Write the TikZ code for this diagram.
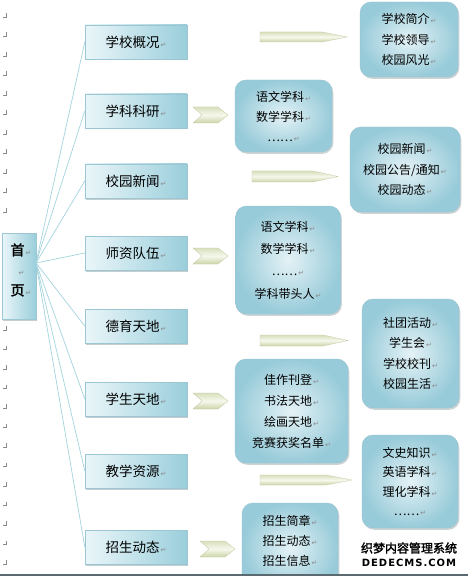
\documentclass[tikz,border=0pt]{standalone}
\usepackage{fontspec}
\setmainfont{Noto Sans CJK SC}
\newfontfamily\symf{DejaVu Sans}
\newfontfamily\cjkb{Noto Sans CJK SC}[FakeBold=2]
\newfontfamily\wmlat{DejaVu Sans}[LetterSpace=10]
\usetikzlibrary{shadows,calc}
\definecolor{menul}{HTML}{EAF6F9}
\definecolor{menur}{HTML}{9ACEDB}
\definecolor{menuedge}{HTML}{9CC6D1}
\definecolor{subin}{HTML}{E4F2F6}
\definecolor{subout}{HTML}{98CBD9}
\definecolor{subedge}{HTML}{94C3D0}
\definecolor{shadowc}{HTML}{7F9296}
\definecolor{linkc}{HTML}{A3D4DE}
\definecolor{pencTop}{HTML}{D8E0BE}
\definecolor{pencMid}{HTML}{F6F8EC}
\definecolor{pencBot}{HTML}{CBD4A8}
\definecolor{pencEdge}{HTML}{C2CBA2}
\definecolor{pmgray}{HTML}{8A8A8A}
\definecolor{bottomline}{HTML}{5A6A70}
\newcommand\pmk{\hspace{1pt}{\symf\fontsize{7}{7}\selectfont\textcolor{pmgray}{↵}}}
\begin{document}
\begin{tikzpicture}[x=1pt,y=-1pt,
  menubox/.style={draw=menuedge, line width=0.4pt, left color=menul, right color=menur,
    minimum width=102pt, minimum height=34pt, inner sep=0pt,
    font=\fontsize{13.5}{14}\selectfont,
    drop shadow={shadow xshift=1.3pt, shadow yshift=-1.5pt, opacity=0.45, fill=shadowc}},
  homebox/.style={draw=menuedge, line width=0.4pt, left color=menul, right color=menur,
    minimum width=34pt, minimum height=86pt, inner sep=0pt,
    drop shadow={shadow xshift=1.3pt, shadow yshift=-1.5pt, opacity=0.45, fill=shadowc}},
  subbox/.style={draw=subedge, line width=0.4pt, rounded corners=11pt,
    inner color=subin, outer color=subout, inner sep=0pt, align=center,
    drop shadow={shadow xshift=1.3pt, shadow yshift=-1.8pt, opacity=0.4, fill=shadowc}},
  subtxt/.style={align=center, inner sep=0pt},
  link/.style={draw=linkc, line width=0.7pt},
  pencil/.style={draw=pencEdge, line width=0.3pt, top color=pencTop, bottom color=pencBot, middle color=pencMid},
  chev/.style={draw=pencEdge, line width=0.3pt, top color=pencTop, bottom color=pencBot, middle color=pencMid},
  pmmark/.style={draw=pmgray, line width=0.5pt}
]
\useasboundingbox (0,0) rectangle (468,577);
\fill[white] (0,0) rectangle (468,577);

% margin paragraph marks
\foreach \yy in {17,36.5,56,75.5,95,114.5,134,153.5,173,192.5,212,330,349.5,369,388.5,408,427.5,447,466.5,486,505.5,525,544.5,564}
  \draw[pmmark] (3,\yy) -- (6,\yy) -- (6,\yy-4);

% home
\node[homebox] (home) at (19,276) {};
\node[subtxt, font=\fontsize{14}{20}\selectfont\cjkb] (hometxt) at (21,270) {首\pmk\\[0pt]\pmk\\[0pt]页\pmk};
\coordinate (hub) at (36,263);

% menu boxes
\node[menubox] (m1) at (136,42) {学校概况\pmk};
\node[menubox] (m2) at (136,111) {学科科研\pmk};
\node[menubox] (m3) at (136,181) {校园新闻\pmk};
\node[menubox] (m4) at (136,253) {师资队伍\pmk};
\node[menubox] (m5) at (136,326) {德育天地\pmk};
\node[menubox] (m6) at (136,399) {学生天地\pmk};
\node[menubox] (m7) at (136,471) {教学资源\pmk};
\node[menubox] (m8) at (136,547) {招生动态\pmk};

\foreach \m in {m1,m2,m3,m4,m5,m6,m7,m8}
  \draw[link] (hub) -- (\m.west);

% sub boxes
\node[subbox, minimum width=98pt, minimum height=75pt, font=\fontsize{12}{20.5}\selectfont] (s1) at (409,39.5)
  {学校简介\pmk\\学校领导\pmk\\校园风光\pmk};
\node[subbox, minimum width=97pt, minimum height=72pt, font=\fontsize{12}{20}\selectfont] (s2) at (283.5,116)
  {语文学科\pmk\\数学学科\pmk\\……\pmk};
\node[subbox, minimum width=110pt, minimum height=85pt, font=\fontsize{12}{20.5}\selectfont] (s3) at (405,169.5)
  {校园新闻\pmk\\校园公告/通知\pmk\\校园动态\pmk};
\node[subbox, minimum width=105pt, minimum height=108pt, font=\fontsize{12}{22.3}\selectfont] (s4) at (288,260)
  {语文学科\pmk\\数学学科\pmk\\……\pmk\\学科带头人\pmk};
\node[subbox, minimum width=97pt, minimum height=109pt, font=\fontsize{12}{20.3}\selectfont] (s5) at (410.5,353.5)
  {社团活动\pmk\\学生会\pmk\\学校校刊\pmk\\校园生活\pmk};
\node[subbox, minimum width=113pt, minimum height=104pt, font=\fontsize{12}{21}\selectfont] (s6) at (291.5,411)
  {佳作刊登\pmk\\书法天地\pmk\\绘画天地\pmk\\竞赛获奖名单\pmk};
\node[subbox, minimum width=96pt, minimum height=93pt, font=\fontsize{12}{19.3}\selectfont] (s7) at (410,481.5)
  {文史知识\pmk\\英语学科\pmk\\理化学科\pmk\\……\pmk};
\begin{scope}
  \clip (0,0) rectangle (468,573);
  \node[subbox, minimum width=96pt, minimum height=90pt] (s8) at (290,548) {};
  \node[subtxt, font=\fontsize{12}{20}\selectfont] (s8txt) at (290,541) {招生简章\pmk\\招生动态\pmk\\招生信息\pmk};
\end{scope}

% pencil arrows
\draw[pencil] (260,32) -- (322,32) -- (347,37) -- (322,42) -- (260,42) -- cycle;
\draw[pencil] (252,171) -- (313,171) -- (338,176.5) -- (313,182) -- (252,182) -- cycle;
\draw[pencil] (260,335) -- (323,335) -- (348,340.5) -- (323,346) -- (260,346) -- cycle;
\draw[pencil] (260,475) -- (326,475) -- (352,480) -- (326,485) -- (260,485) -- cycle;

% chevrons
\foreach \cx/\cy in {193/115, 193/256, 193/401, 200/549}
  \draw[chev] (\cx,\cy-8) -- (\cx+25,\cy-8) -- (\cx+35,\cy) -- (\cx+25,\cy+8) -- (\cx,\cy+8) -- (\cx+9,\cy) -- cycle;

% watermark
\node[subtxt, font=\fontsize{12}{12}\selectfont\cjkb] (wm1) at (409,548) {织梦内容管理系统};
\node[subtxt, font=\fontsize{10}{10}\selectfont\wmlat\bfseries] (wm2) at (409,563) {DEDECMS.COM};

% bottom rule
\draw[bottomline, line width=2pt] (0,574.5) -- (468,574.5);
\end{tikzpicture}
\end{document}
